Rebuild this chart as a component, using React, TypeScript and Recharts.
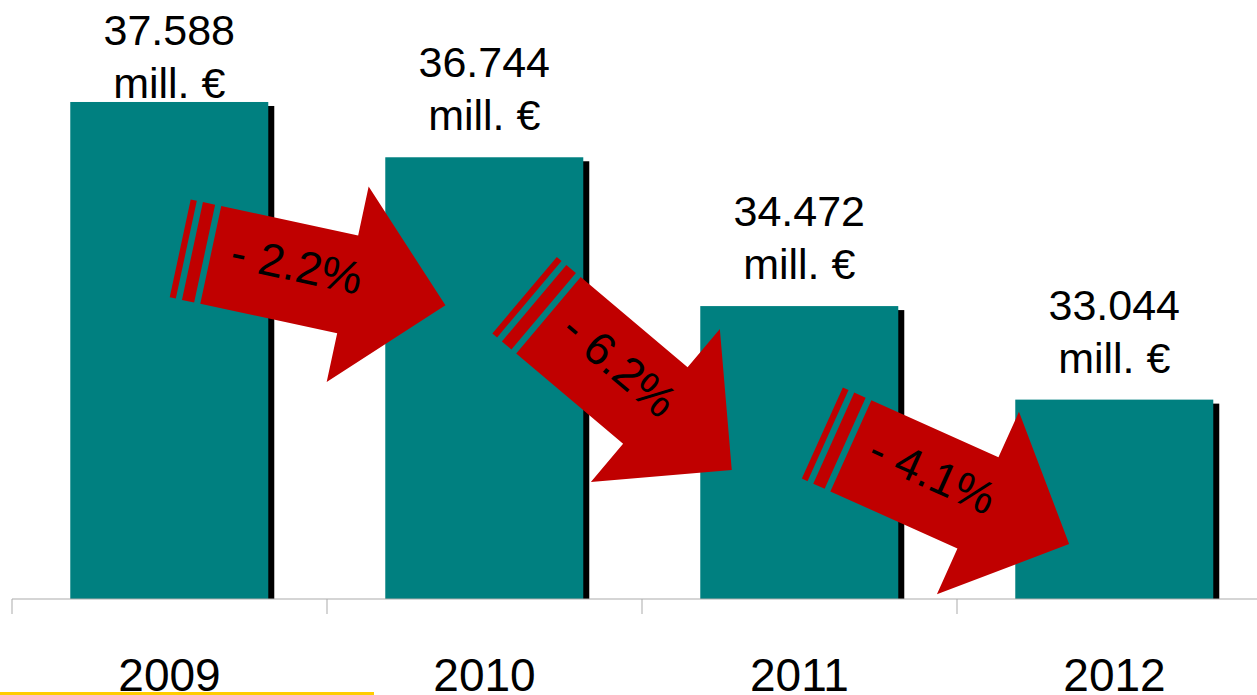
import React from 'react';
import { BarChart, Bar, XAxis, YAxis, LabelList, ReferenceLine } from 'recharts';

// ---- data ----
const years = ['2009', '2010', '2011', '2012'];
const values = [37588, 36744, 34472, 33044];
const valueLabels = ['37.588', '36.744', '34.472', '33.044'];
const unitLabel = 'mill. €';

// change arrows: from-year -> to-year, with value-axis anchor heights
const arrowLabels = ['- 2.2%', '- 6.2%', '- 4.1%'];
const arrowFromYear = ['2009', '2010', '2011'];
const arrowToYear = ['2010', '2011', '2012'];
const arrowFromY = [35253, 34331, 32339];
const arrowToY = [34484, 31969, 30840];
// horizontal shift of tail / tip, as fraction of a category band from the band centre
const arrowFromShift = [0.131, 0.203, 0.163];
const arrowToShift = [-0.124, -0.215, -0.144];

const yDomain = [30000, 38000];

const data = years.map((year, i) => ({ year, value: values[i], label: valueLabels[i] }));

// ---- styles ----
const FONT = '"Liberation Sans", Arial, sans-serif';
const TEAL = '#008080';
const RED = '#C00000';
const AXIS_GRAY = '#ababab';

const ShadowBar = (props: any) => {
  const { x, y, width, height } = props;
  if (!width || !height) return null;
  return (
    <g>
      <rect x={x + 6} y={y + 4} width={width} height={Math.max(0, height - 4)} fill="#000" />
      <rect x={x} y={y} width={width} height={height} fill={TEAL} />
    </g>
  );
};

const ValueLabel = (props: any) => {
  const { x, y, width, value } = props;
  const cx = x + width / 2;
  const base2 = Math.max(y - 27, 98);
  const base1 = base2 - 53;
  return (
    <g>
      <text x={cx} y={base1} textAnchor="middle" fontSize={43} fill="#000" style={{ fontFamily: FONT }}>
        {value}
      </text>
      <text x={cx} y={base2} textAnchor="middle" fontSize={43} fill="#000" style={{ fontFamily: FONT }}>
        {unitLabel}
      </text>
    </g>
  );
};

const CategoryTick = (props: any) => {
  const { x, y, payload, width, visibleTicksCount, index } = props;
  const half =
    payload && typeof payload.offset === 'number' && payload.offset > 0
      ? payload.offset
      : width / (visibleTicksCount || years.length) / 2;
  const isLast = index === (visibleTicksCount || years.length) - 1;
  return (
    <g>
      <line x1={x - half} y1={y - 15} x2={x - half} y2={y} stroke={AXIS_GRAY} strokeWidth={1} />
      {isLast && <line x1={x + half} y1={y - 15} x2={x + half} y2={y} stroke={AXIS_GRAY} strokeWidth={1} />}
      <text x={x} y={y + 77} textAnchor="middle" fontSize={46} fill="#000" style={{ fontFamily: FONT }}>
        {payload.value}
      </text>
    </g>
  );
};

const makeArrow = (label: string, fromShift: number, toShift: number) => (props: any) => {
  const { x1, y1, x2, y2 } = props;
  if ([x1, y1, x2, y2].some((v) => typeof v !== 'number' || isNaN(v))) return null;
  const band = x2 - x1; // neighbouring categories: centre distance = one band
  const sx = x1 + fromShift * band;
  const ex = x2 + toShift * band;
  const dx = ex - sx;
  const dy = y2 - y1;
  const L = Math.hypot(dx, dy);
  const ang = (Math.atan2(dy, dx) * 180) / Math.PI;
  const headHalf = 100;
  const bodyHalf = 50;
  const hb = L - headHalf;
  const pts = [
    [0, -bodyHalf],
    [hb, -bodyHalf],
    [hb, -headHalf],
    [L, 0],
    [hb, headHalf],
    [hb, bodyHalf],
    [0, bodyHalf],
  ]
    .map((p) => p.join(','))
    .join(' ');
  return (
    <g transform={`translate(${sx},${y1}) rotate(${ang})`}>
      <rect x={-31.25} y={-bodyHalf} width={6.25} height={bodyHalf * 2} fill={RED} />
      <rect x={-18.75} y={-bodyHalf} width={12.5} height={bodyHalf * 2} fill={RED} />
      <polygon points={pts} fill={RED} />
      <text
        x={L * 0.36}
        y={-8}
        dy="0.35em"
        textAnchor="middle"
        fontSize={46}
        fill="#000"
        style={{ fontFamily: FONT }}
      >
        {label}
      </text>
    </g>
  );
};

export default function App() {
  return (
    <div
      style={{
        position: 'absolute',
        left: 0,
        top: 0,
        width: 1257,
        height: 695,
        overflow: 'hidden',
        background: '#fff',
      }}
    >
      <BarChart
        width={1272}
        height={695}
        data={data}
        margin={{ top: 75, right: 0, left: 12, bottom: 0 }}
        barCategoryGap="18.5%"
      >
        <XAxis
          dataKey="year"
          type="category"
          height={96}
          axisLine={{ stroke: AXIS_GRAY, strokeWidth: 1 }}
          tickLine={false}
          tickSize={15}
          tickMargin={0}
          interval={0}
          tick={<CategoryTick />}
        />
        <YAxis type="number" domain={yDomain} hide allowDataOverflow />
        <Bar dataKey="value" isAnimationActive={false} shape={<ShadowBar />}>
          <LabelList dataKey="label" content={<ValueLabel />} />
        </Bar>
        {arrowLabels.map((label, i) => (
          <ReferenceLine
            key={label}
            segment={[
              { x: arrowFromYear[i], y: arrowFromY[i] },
              { x: arrowToYear[i], y: arrowToY[i] },
            ]}
            ifOverflow="visible"
            zIndex={1500}
            shape={makeArrow(label, arrowFromShift[i], arrowToShift[i])}
          />
        ))}
      </BarChart>
      <div
        style={{
          position: 'absolute',
          left: 0,
          top: 692,
          width: 374,
          height: 3,
          background: '#FFCC00',
        }}
      />
    </div>
  );
}
